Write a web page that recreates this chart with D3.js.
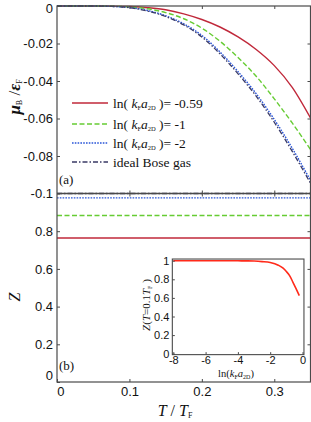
<!DOCTYPE html>
<html>
<head>
<meta charset="utf-8">
<script src="https://cdn.jsdelivr.net/npm/d3@7"></script>
<style>
  body { margin: 0; background: #fff; }
  svg { display: block; font-family: "Liberation Serif", "Times New Roman", serif; }
</style>
</head>
<body>
<div id="chart"></div>
<script>
const temps = [0, 0.05, 0.075, 0.1, 0.125, 0.15, 0.175, 0.2, 0.225, 0.25, 0.275, 0.3, 0.325, 0.35];
// mu_B / eps_F for each ln(kF a2D)
const muRed = [0, 0, -0.00005, -0.0003, -0.0009, -0.002, -0.0042, -0.0072, -0.0112, -0.0165, -0.0232, -0.0318, -0.0435, -0.0597];
const muGreen = [0, 0, -0.0001, -0.0005, -0.0015, -0.0035, -0.0068, -0.0118, -0.0188, -0.0275, -0.0375, -0.0495, -0.0625, -0.0765];
const muBlue = [0, 0, -0.0002, -0.0008, -0.0024, -0.0052, -0.0095, -0.0157, -0.0245, -0.035, -0.0468, -0.0605, -0.076, -0.093];
const muIdeal = [0, 0, -0.0002, -0.0009, -0.0027, -0.0056, -0.0101, -0.0165, -0.0255, -0.0362, -0.0481, -0.062, -0.0777, -0.0945];
// Z is flat in T
const zRed = 0.764, zGreen = 0.883, zBlue = 0.977, zIdeal = 1;

const legendValues = ["-0.59", "-1", "-2"];

// inset: Z(T=0.1 T_F) vs ln(kF a2D)
const insetX = [-8, -7, -6, -5, -4, -3.5, -3, -2.5, -2, -1.5, -1.2, -1, -0.8, -0.59, -0.4, -0.2];
const insetZ = [1, 1, 1, 1, 0.999, 0.998, 0.996, 0.99, 0.98, 0.952, 0.92, 0.884, 0.84, 0.768, 0.70, 0.625];

const xTicks = [0, 0.1, 0.2, 0.3];
const xTickLabels = ["0", "0.1", "0.2", "0.3"];
const muTicks = [0, -0.02, -0.04, -0.06, -0.08, -0.1];
const muTickLabels = ["0", "-0.02", "-0.04", "-0.06", "-0.08", "-0.1"];
const zTicks = [0, 0.2, 0.4, 0.6, 0.8];
const zTickLabels = ["0", "0.2", "0.4", "0.6", "0.8"];
const inXTicks = [-8, -6, -4, -2, 0];
const inXTickLabels = ["-8", "-6", "-4", "-2", "0"];
const inYTicks = [0, 0.2, 0.4, 0.6, 0.8, 1];
const inYTickLabels = ["0", "0.2", "0.4", "0.6", "0.8", "1"];

const W = 311, H = 422;
const frameColor = "#4a4a4a";

const svg = d3.select("#chart").append("svg")
	.attr("width", W)
	.attr("height", H);

const x = d3.scaleLinear().domain([0, 0.35]).range([57, 310.5]);
const yMu = d3.scaleLinear().domain([-0.1, 0]).range([193.5, 6]);
const yZ = d3.scaleLinear().domain([0, 1]).range([382, 193.5]);

const series = [
	{ mu: muRed, z: zRed, color: "#c0283a", dash: null, width: 1.4 },
	{ mu: muGreen, z: zGreen, color: "#66cc33", dash: "5,2.5", width: 1.4 },
	{ mu: muBlue, z: zBlue, color: "#2a55d8", dash: "1.6,1.2", width: 1.4 },
	{ mu: muIdeal, z: zIdeal, color: "#3a3a66", dash: "5,2,1.5,2", width: 1.3 },
];

function styleTicks(g, size) {
	g.select(".domain").remove();
	g.selectAll(".tick line").attr("stroke", frameColor);
	g.selectAll(".tick text")
		.attr("fill", "#111")
		.style("font-size", size + "px");
}

// top panel curves
const line = d3.line()
	.x((d, i) => x(temps[i]))
	.y(d => yMu(d))
	.curve(d3.curveMonotoneX);

series.forEach(s => {
	svg.append("path")
		.datum(s.mu)
		.attr("d", line)
		.attr("fill", "none")
		.attr("stroke", s.color)
		.attr("stroke-width", s.width)
		.attr("stroke-dasharray", s.dash);
});

// bottom panel flat lines
series.forEach(s => {
	svg.append("line")
		.attr("x1", x(0)).attr("x2", x(0.35))
		.attr("y1", yZ(s.z)).attr("y2", yZ(s.z))
		.attr("stroke", s.color)
		.attr("stroke-width", s.width)
		.attr("stroke-dasharray", s.dash);
});

// frames
svg.append("rect")
	.attr("x", x(0)).attr("y", yMu(0))
	.attr("width", x(0.35) - x(0)).attr("height", yZ(0) - yMu(0))
	.attr("fill", "none")
	.attr("stroke", frameColor)
	.attr("stroke-width", 1.2);
svg.append("line")
	.attr("x1", x(0)).attr("x2", x(0.35))
	.attr("y1", yMu(-0.1)).attr("y2", yMu(-0.1))
	.attr("stroke", frameColor)
	.attr("stroke-width", 1.6);

// left axes
svg.append("g")
	.attr("transform", `translate(${x(0)},0)`)
	.call(d3.axisLeft(yMu).tickValues(muTicks).tickSize(-3).tickPadding(4)
		.tickFormat((d, i) => muTickLabels[i]))
	.call(g => styleTicks(g, 13))
	.call(g => g.selectAll(".tick text").filter((d, i) => i === 0).attr("dy", "0.5em"));

svg.append("g")
	.attr("transform", `translate(${x(0)},0)`)
	.call(d3.axisLeft(yZ).tickValues(zTicks).tickSize(-3).tickPadding(4)
		.tickFormat((d, i) => zTickLabels[i]))
	.call(g => styleTicks(g, 13))
	.call(g => g.selectAll(".tick text").filter((d, i) => i === 0).attr("dy", "-0.2em"));

// right ticks
svg.append("g")
	.attr("transform", `translate(${x(0.35)},0)`)
	.call(d3.axisRight(yMu).tickValues(muTicks.slice(1, 5)).tickSize(-3).tickFormat(""))
	.call(g => styleTicks(g, 13));
svg.append("g")
	.attr("transform", `translate(${x(0.35)},0)`)
	.call(d3.axisRight(yZ).tickValues(zTicks.slice(1)).tickSize(-3).tickFormat(""))
	.call(g => styleTicks(g, 13));

// bottom axis with labels
svg.append("g")
	.attr("transform", `translate(0,${yZ(0)})`)
	.call(d3.axisBottom(x).tickValues(xTicks).tickSize(-3).tickPadding(5)
		.tickFormat((d, i) => xTickLabels[i]))
	.call(g => styleTicks(g, 13))
	.call(g => g.selectAll(".tick text").filter((d, i) => i === 0).attr("dx", "0.25em"));

// top frame ticks and middle line ticks
svg.append("g")
	.attr("transform", `translate(0,${yMu(0)})`)
	.call(d3.axisTop(x).tickValues(xTicks.slice(1)).tickSize(-3).tickFormat(""))
	.call(g => styleTicks(g, 13));
svg.append("g")
	.attr("transform", `translate(0,${yMu(-0.1)})`)
	.call(d3.axisTop(x).tickValues(xTicks.slice(1)).tickSize(3).tickFormat(""))
	.call(g => styleTicks(g, 13));
svg.append("g")
	.attr("transform", `translate(0,${yMu(-0.1)})`)
	.call(d3.axisBottom(x).tickValues(xTicks.slice(1)).tickSize(3).tickFormat(""))
	.call(g => styleTicks(g, 13));

// axis titles
const muTitle = svg.append("text")
	.attr("transform", "translate(20,97) rotate(-90)")
	.attr("text-anchor", "middle")
	.attr("fill", "#111")
	.style("font-size", "17px");
muTitle.append("tspan").attr("font-style", "italic").attr("font-weight", "bold").text("μ");
muTitle.append("tspan").style("font-size", "8px").attr("dy", 2).text("B");
muTitle.append("tspan").attr("dy", -2).text(" /");
muTitle.append("tspan").attr("font-style", "italic").attr("font-weight", "bold").text("ε");
muTitle.append("tspan").style("font-size", "8px").attr("dy", 2).text("F");

svg.append("text")
	.attr("transform", "translate(20,297) rotate(-90)")
	.attr("text-anchor", "middle")
	.attr("fill", "#111")
	.attr("font-style", "italic")
	.style("font-size", "16px")
	.text("Z");

const tTitle = svg.append("text")
	.attr("x", 175).attr("y", 416)
	.attr("text-anchor", "middle")
	.attr("fill", "#111")
	.style("font-size", "16px");
tTitle.append("tspan").attr("font-style", "italic").text("T");
tTitle.append("tspan").text(" / ");
tTitle.append("tspan").attr("font-style", "italic").text("T");
tTitle.append("tspan").style("font-size", "8px").attr("dy", 2).text("F");

// panel letters
svg.append("text").attr("x", 59).attr("y", 184).attr("fill", "#111")
	.style("font-size", "13px").text("(a)");
svg.append("text").attr("x", 59).attr("y", 370).attr("fill", "#111")
	.style("font-size", "13px").text("(b)");

// legend
const legendRows = [103, 124, 143, 162];
series.forEach((s, i) => {
	const ly = legendRows[i];
	svg.append("line")
		.attr("x1", 72).attr("x2", 108)
		.attr("y1", ly).attr("y2", ly)
		.attr("stroke", s.color)
		.attr("stroke-width", s.width)
		.attr("stroke-dasharray", s.dash);
	const t = svg.append("text")
		.attr("x", 113).attr("y", ly + 4.5)
		.attr("fill", "#111")
		.style("font-size", "13.5px");
	if (i < 3) {
		t.append("tspan").text("ln( ");
		t.append("tspan").attr("font-style", "italic").text("k");
		t.append("tspan").style("font-size", "6.5px").attr("dy", 2).text("F");
		t.append("tspan").attr("font-style", "italic").attr("dy", -2).text("a");
		t.append("tspan").style("font-size", "6.5px").attr("dy", 2).text("2D");
		t.append("tspan").attr("dy", -2).text(" )= " + legendValues[i]);
	} else {
		t.text("ideal Bose gas");
	}
});

// inset
const xIn = d3.scaleLinear().domain([-8, 0]).range([173.3, 302.5]);
const yIn = d3.scaleLinear().domain([0, 1]).range([353.7, 260.7]);

svg.append("rect")
	.attr("x", xIn(-8.06)).attr("y", yIn(1.018))
	.attr("width", xIn(0.09) - xIn(-8.06)).attr("height", yIn(-0.01) - yIn(1.018))
	.attr("fill", "#fff")
	.attr("stroke", frameColor)
	.attr("stroke-width", 1.1);

svg.append("path")
	.datum(insetZ)
	.attr("d", d3.line()
		.x((d, i) => xIn(insetX[i]))
		.y(d => yIn(d))
		.curve(d3.curveMonotoneX))
	.attr("fill", "none")
	.attr("stroke", "#ff2a1a")
	.attr("stroke-width", 1.6);

svg.append("g")
	.attr("transform", `translate(${xIn(-8.06)},0)`)
	.call(d3.axisLeft(yIn).tickValues(inYTicks).tickSize(-2.5).tickPadding(3)
		.tickFormat((d, i) => inYTickLabels[i]))
	.call(g => styleTicks(g, 11));
svg.append("g")
	.attr("transform", `translate(0,${yIn(-0.01)})`)
	.call(d3.axisBottom(xIn).tickValues(inXTicks).tickSize(-2.5).tickPadding(1.5)
		.tickFormat((d, i) => inXTickLabels[i]))
	.call(g => styleTicks(g, 11));

const inXTitle = svg.append("text")
	.attr("x", 236).attr("y", 377)
	.attr("text-anchor", "middle")
	.attr("fill", "#111")
	.style("font-size", "10.5px");
inXTitle.append("tspan").text("ln(");
inXTitle.append("tspan").attr("font-style", "italic").text("k");
inXTitle.append("tspan").style("font-size", "6px").attr("dy", 1.5).text("F");
inXTitle.append("tspan").attr("font-style", "italic").attr("dy", -1.5).text("a");
inXTitle.append("tspan").style("font-size", "6px").attr("dy", 1.5).text("2D");
inXTitle.append("tspan").attr("dy", -1.5).text(")");

const inYTitle = svg.append("text")
	.attr("transform", "translate(150,305) rotate(-90)")
	.attr("text-anchor", "middle")
	.attr("fill", "#111")
	.style("font-size", "11px");
inYTitle.append("tspan").attr("font-style", "italic").text("Z");
inYTitle.append("tspan").text("(");
inYTitle.append("tspan").attr("font-style", "italic").text("T");
inYTitle.append("tspan").text("=0.1");
inYTitle.append("tspan").attr("font-style", "italic").text("T");
inYTitle.append("tspan").style("font-size", "6px").attr("dy", 1.5).text("F");
inYTitle.append("tspan").attr("dy", -1.5).text(" )");
</script>
</body>
</html>
